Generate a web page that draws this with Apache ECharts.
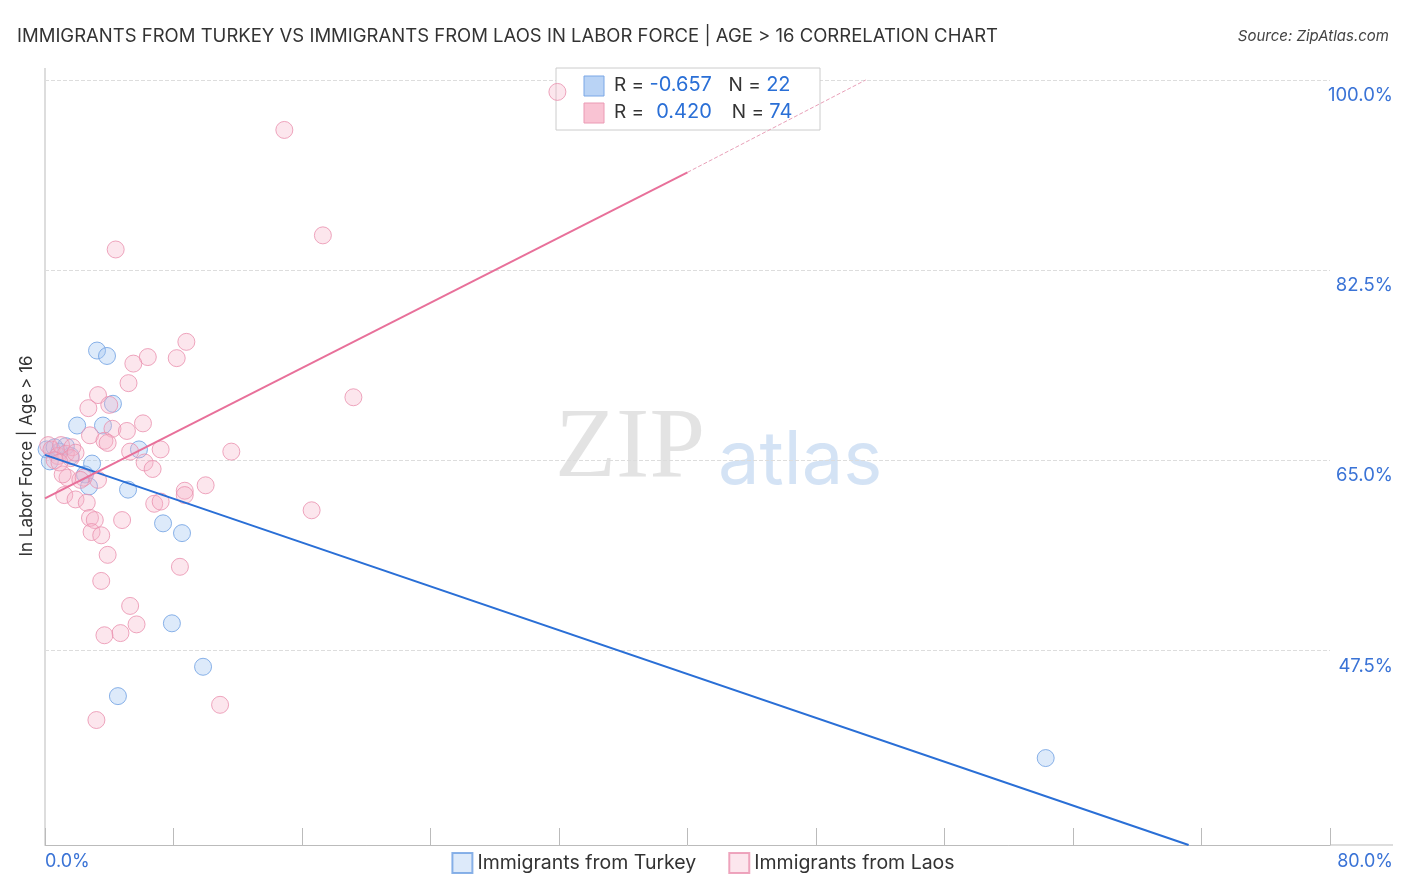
<!DOCTYPE html><html><head><meta charset="utf-8"><script src="https://cdn.jsdelivr.net/npm/echarts@6/dist/echarts.min.js"></script>
<style>body{margin:0}#c{width:1406px;height:892px}</style></head><body><div id="c"></div><script>
const turkeyX=[3.24,3.86,4.23,3.61,2.0,5.85,2.93,2.49,2.74,5.17,7.35,8.53,7.9,9.84,4.54,62.3,0.1,0.6,0.9,1.3,0.3,1.6];
const turkeyY=[75.1,74.6,70.2,68.2,68.2,66.0,64.7,63.7,62.6,62.3,59.2,58.3,50.0,46.0,43.3,37.6,66.0,66.2,65.8,66.3,64.9,65.4];
const laosX=[31.9,14.9,17.3,4.4,8.8,8.2,6.4,5.5,5.2,3.3,19.2,2.7,4.0,6.1,4.2,5.1,2.8,3.7,3.9,7.2,5.3,11.6,6.2,6.7,2.4,3.3,1.4,1.1,2.2,8.7,10.0,8.7,1.2,1.9,2.6,6.8,7.2,16.6,2.8,3.1,4.8,2.9,3.5,3.9,8.4,3.5,5.3,5.7,4.7,3.7,10.9,3.2,0.2,0.4,0.8,1.0,1.3,1.7,0.6,1.6,1.9,0.9];
const laosY=[98.9,95.4,85.7,84.4,75.9,74.4,74.5,73.9,72.1,71.0,70.8,69.8,70.1,68.4,67.9,67.7,67.3,66.8,66.6,66.0,65.8,65.8,64.8,64.2,63.4,63.2,63.4,63.7,63.2,62.2,62.7,61.8,61.8,61.4,61.1,61.0,61.2,60.4,59.7,59.5,59.5,58.4,58.1,56.3,55.2,53.9,51.6,49.9,49.1,48.9,42.5,41.1,66.4,66.0,65.4,66.4,65.6,66.2,65.0,65.2,65.7,64.8];
const yTicks=[47.5,65,82.5,100];
const turkeyLine=[[0,65.5],[71.2,29.6]];
const laosLine=[[0,61.5],[40,91.5]];
const laosDash=[[40,91.5],[51.1,100.0]];
const ch=echarts.init(document.getElementById('c'));
const rich={a:{fill:'#333',fontSize:19,fontFamily:'Inter'},b:{fill:'#2a6fd6',fontSize:20,fontFamily:'Inter'}};
ch.setOption({
 animation:false,
 title:[{text:'IMMIGRANTS FROM TURKEY VS IMMIGRANTS FROM LAOS IN LABOR FORCE | AGE > 16 CORRELATION CHART',left:12,top:22,textStyle:{fontFamily:'Inter',fontSize:18.5,fontWeight:'normal',color:'#333'}},
  {text:'Source: ZipAtlas.com',right:12,top:24,textStyle:{fontFamily:'Inter',fontSize:15,fontStyle:'italic',fontWeight:'normal',color:'#444'}}],
 grid:{left:45,right:76,top:68,bottom:47,outerBoundsMode:'none',containLabel:false},
 legend:{bottom:13,left:'center',itemWidth:20,itemHeight:20,itemGap:32,icon:'rect',textStyle:{fontFamily:'Inter',fontSize:19.5,color:'#333'},data:['Immigrants from Turkey','Immigrants from Laos']},
 xAxis:{type:'value',min:0,max:80,interval:8,splitLine:{show:false},axisLine:{lineStyle:{color:'#bbb'}},
  axisTick:{inside:true,length:17,lineStyle:{color:'#bbb'}},axisLabel:{show:false}},
 yAxis:{type:'value',min:29.6,max:101.1,position:'right',axisLine:{show:false},
  axisTick:{show:false,customValues:yTicks},
  axisLabel:{customValues:yTicks,formatter:v=>v.toFixed(1)+'%',color:'#3a73d6',fontFamily:'Inter',fontSize:18.5,margin:63,align:'right',verticalAlign:'top',padding:[6,0,0,0]},
  splitLine:{show:true,lineStyle:{type:'dashed',color:'#ddd'}}},
 graphic:[
  {type:'line',shape:{x1:45,y1:68,x2:45,y2:845},style:{stroke:'#bbb',lineWidth:1}},
  {type:'line',shape:{x1:1330,y1:845,x2:1393,y2:845},style:{stroke:'#bbb',lineWidth:1}},
  {type:'text',x:45,y:853,style:{text:'0.0%',font:'18px Inter',fill:'#3a73d6'}},
  {type:'text',x:1393,y:853,style:{text:'80.0%',font:'18px Inter',fill:'#3a73d6',align:'right'}},
  {type:'text',x:18,y:456,rotation:Math.PI/2,style:{text:'In Labor Force | Age > 16',font:'17px Inter',fill:'#333',align:'center',verticalAlign:'top'}},
  {type:'text',left:555,top:400,style:{text:'ZIP',font:'100px serif',fill:'rgba(200,200,200,0.5)'},z:0},
  {type:'text',left:718,top:425,style:{text:'atlas',font:'74px Inter',fill:'rgba(170,200,235,0.5)'},z:0},
  {type:'rect',shape:{x:556,y:68,width:264,height:62},style:{fill:'#fff',stroke:'#ccc'},z:1},
  {type:'rect',shape:{x:584,y:76,width:20,height:20},style:{fill:'#b9d3f5',stroke:'#7aa7e6'},z:2},
  {type:'rect',shape:{x:584,y:103,width:20,height:20},style:{fill:'#f9c3d3',stroke:'#eb9ab4'},z:2},
  {type:'text',x:614,y:75,style:{rich,text:'{a|R = }{b|-0.657}     {a|N = }{b|22}'},z:2},
  {type:'text',x:614,y:102,style:{rich,text:'{a|R = }  {b|0.420}      {a|N = }{b|74}'},z:2}
 ],
 series:[
  {name:'Immigrants from Turkey',type:'scatter',symbolSize:17,data:turkeyX.map((x,i)=>[x,turkeyY[i]]),itemStyle:{color:'rgba(160,196,240,0.45)',borderColor:'#6d9fe2',borderWidth:1},z:3},
  {name:'Immigrants from Laos',type:'scatter',symbolSize:17,data:laosX.map((x,i)=>[x,laosY[i]]),itemStyle:{color:'rgba(246,176,199,0.4)',borderColor:'#ea90ae',borderWidth:1},z:3},
  {type:'line',data:turkeyLine,symbol:'none',lineStyle:{color:'#2a6fd6',width:2},z:4},
  {type:'line',data:laosLine,symbol:'none',lineStyle:{color:'#e8709a',width:2},z:4},
  {type:'line',data:laosDash,symbol:'none',lineStyle:{color:'#e8a0b8',width:1,type:'dashed'},z:4}
 ]
});
</script></body></html>
